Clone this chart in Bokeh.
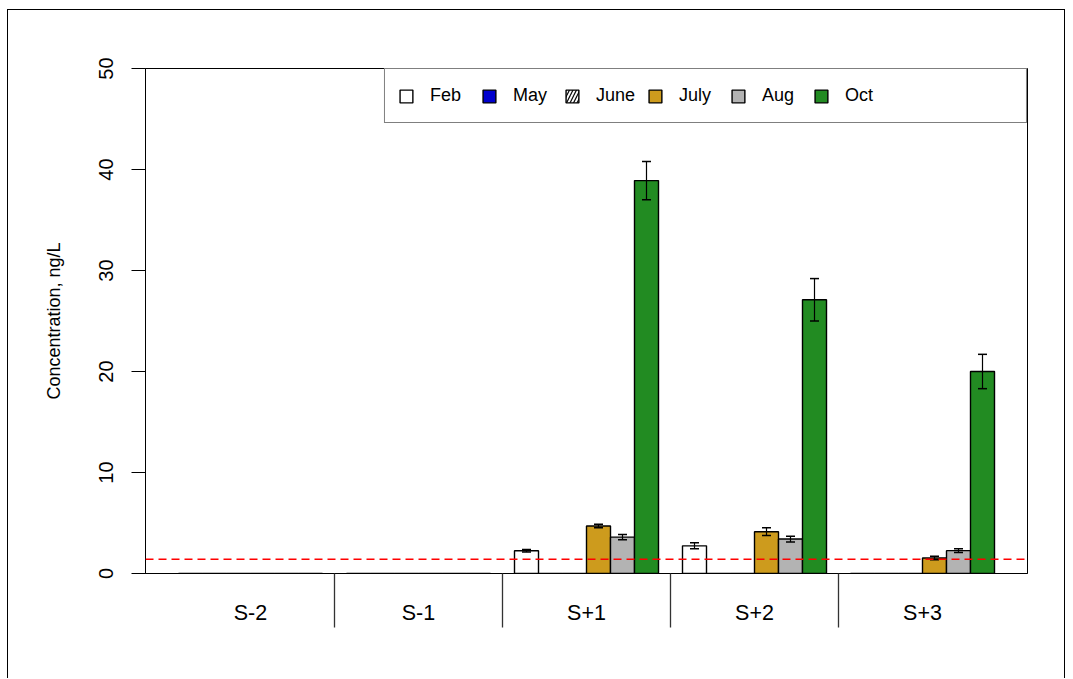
from bokeh.plotting import figure
from bokeh.models import (ColumnDataSource, Range1d, FixedTicker, Span, Whisker,
                          TeeHead, Legend, LegendItem)
from bokeh.embed import file_html
from bokeh.resources import INLINE

# ---- data ----
sites = ["S-2", "S-1", "S+1", "S+2", "S+3"]
months = ["Feb", "May", "June", "July", "Aug", "Oct"]
feb = [0, 0, 2.25, 2.74, 0]
may = [0, 0, 0, 0, 0]
june = [0, 0, 0, 0, 0]
july = [0, 0, 4.70, 4.14, 1.53]
aug = [0, 0, 3.60, 3.41, 2.26]
octo = [0, 0, 38.9, 27.1, 20.0]
feb_err = [0, 0, 0.12, 0.30, 0]
may_err = [0, 0, 0, 0, 0]
june_err = [0, 0, 0, 0, 0]
july_err = [0, 0, 0.18, 0.38, 0.18]
aug_err = [0, 0, 0.26, 0.28, 0.18]
oct_err = [0, 0, 1.9, 2.1, 1.7]
detection_limit = 1.4
y_ticks = [0, 10, 20, 30, 40, 50]

values = [feb, may, june, july, aug, octo]
errors = [feb_err, may_err, june_err, july_err, aug_err, oct_err]
fills = ["white", "#0000CD", "white", "#CD9B1D", "#B3B3B3", "#228B22"]
hatches = [None, None, "/", None, None, None]

FONT = "Liberation Sans"
bar_w = 1 / 7
centers = list(range(1, len(sites) + 1))

p = figure(output_backend="svg", toolbar_location=None,
           frame_width=882, frame_height=505,
           min_border_left=137, min_border_top=58, min_border_right=37, min_border_bottom=105,
           x_range=Range1d(0.375, len(sites) + 0.625), y_range=Range1d(0, 50))
p.styles = {"border-top": "1px solid black", "border-left": "1px solid black",
            "border-right": "1px solid black", "margin-left": "7px", "margin-top": "9px"}
p.xgrid.visible = False
p.ygrid.visible = False
p.outline_line_color = "black"
p.outline_line_width = 1
p.background_fill_color = "white"
p.border_fill_color = "white"

items = []
for m, (name, vals, errs, fc, hp) in enumerate(zip(months, values, errors, fills, hatches)):
    xs = [c + (m - 2.5) * bar_w for c in centers]
    src = ColumnDataSource(dict(x=xs, top=vals))
    kw = {}
    if hp:
        kw = dict(hatch_pattern=hp, hatch_color="black", hatch_scale=7, hatch_weight=1.2)
    r = p.vbar(x="x", top="top", bottom=0, width=bar_w, source=src,
               fill_color=fc, line_color="black", line_width=1.4, **kw)
    label = name if m < len(months) - 1 else name + "\u00a0" * 28
    items.append(LegendItem(label=label, renderers=[r]))
    ex = [x for x, e in zip(xs, errs) if e > 0]
    if ex:
        ev = [v for v, e in zip(vals, errs) if e > 0]
        ee = [e for e in errs if e > 0]
        esrc = ColumnDataSource(dict(x=ex, upper=[v + e for v, e in zip(ev, ee)],
                                     lower=[v - e for v, e in zip(ev, ee)]))
        p.add_layout(Whisker(source=esrc, base="x", upper="upper", lower="lower",
                             level="overlay",
                             line_color="black", line_width=1.2,
                             upper_head=TeeHead(size=9, line_color="black", line_width=1.5),
                             lower_head=TeeHead(size=9, line_color="black", line_width=1.5)))

p.add_layout(Span(location=detection_limit, dimension="width", line_color="#FF0000",
                  line_dash="8 5", line_width=1.5, level="overlay"))

legend = Legend(items=items, orientation="horizontal", location="top_right",
                margin=0, padding=13, spacing=0,
                glyph_width=16, glyph_height=16, label_standoff=16,
                label_width=51, label_height=27,
                label_text_font=FONT, label_text_font_size="18px",
                label_text_color="black",
                border_line_color="black", border_line_width=1,
                background_fill_color="white", background_fill_alpha=1)
p.add_layout(legend)

# x axis: separators as minor ticks, labels at centers
xa = p.xaxis[0]
xa.ticker = FixedTicker(ticks=centers, minor_ticks=[c + 0.5 for c in centers[:-1]])
xa.major_label_overrides = {c: s for c, s in zip(centers, sites)}
xa.major_tick_out = 0
xa.major_tick_in = 0
xa.minor_tick_out = 54
xa.minor_tick_in = 0
xa.minor_tick_line_color = "#333333"
xa.minor_tick_line_width = 1.3
xa.axis_line_color = "black"
xa.major_label_text_font = FONT
xa.major_label_text_font_size = "21.5px"
xa.major_label_text_color = "black"
xa.major_label_standoff = -27

ya = p.yaxis[0]
ya.ticker = FixedTicker(ticks=y_ticks)
ya.minor_tick_line_color = None
ya.major_tick_out = 14
ya.major_tick_in = 0
ya.major_tick_line_color = "black"
ya.axis_line_color = "black"
ya.major_label_orientation = "vertical"
ya.major_label_text_font = FONT
ya.major_label_text_font_size = "20px"
ya.major_label_text_color = "black"
ya.major_label_standoff = 19
ya.axis_label = "Concentration, ng/L"
ya.axis_label_text_font = FONT
ya.axis_label_text_font_size = "18px"
ya.axis_label_text_font_style = "normal"
ya.axis_label_text_color = "black"
ya.axis_label_standoff = 32

open("out.html", "w").write(file_html(p, INLINE))
